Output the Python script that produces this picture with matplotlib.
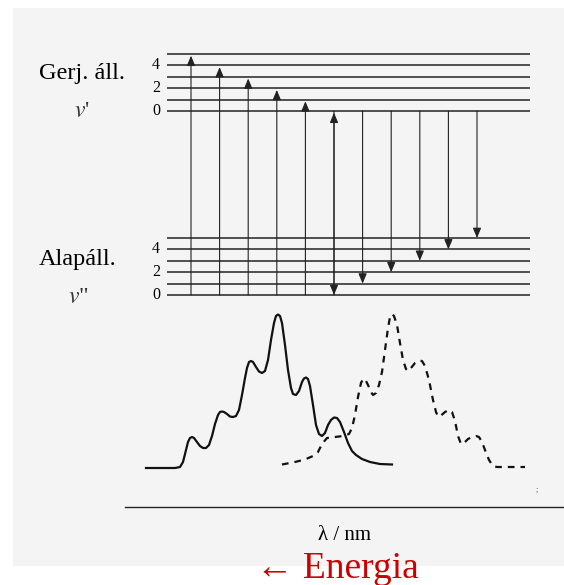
import matplotlib
matplotlib.use("Agg")
import matplotlib.pyplot as plt
from matplotlib.patches import Rectangle

plt.rcParams['font.family'] = ['Liberation Serif', 'DejaVu Serif']

# rezgesi nivok (v = 0..5), energia egysegben
v_quanta = [0, 1, 2, 3, 4, 5]
T_e = 16.14                      # gerjesztett allapot eltolasa
lower_E = [float(v) for v in v_quanta]
upper_E = [T_e + v for v in v_quanta]
label_v = [0, 2, 4]

# atmenetek: abszorpcio v"=0 -> v', emisszio v'=0 -> v"
abs_targets = [5, 4, 3, 2, 1, 0]
emis_targets = [0, 1, 2, 3, 4, 5]

# abszorpcios spektrum (folytonos)
abs_wl = [146, 175, 180, 183, 186, 188, 190, 192, 194, 197, 200, 203, 206, 209,
          212, 215, 218, 220, 222, 224, 227, 230, 233, 236, 239, 242, 245, 247,
          249, 251, 253, 256, 259, 262, 265, 268, 271, 274, 276, 278, 280, 282,
          285, 288, 291, 293, 296, 299, 302, 304, 306, 308, 310, 313, 316, 319,
          322, 325, 328, 331, 334, 337, 340, 344, 348, 352, 356, 362, 370, 380, 392]
abs_int = [0, 0, 1, 6, 18, 26, 30, 31, 30, 26, 22, 20, 20, 23,
           32, 44, 53, 56, 56.5, 56, 54, 51.5, 51, 52, 58, 73, 90, 100,
           106, 107, 106, 101, 96.5, 95, 97, 108, 128, 145, 152, 153.5, 152, 145,
           123, 98, 80, 74, 73, 77, 86, 89.5, 90.5, 89, 82, 63, 43, 34,
           32, 35, 43, 48, 50.5, 50, 46, 36, 25, 17, 13, 9, 6, 4, 3.5]

# emisszios spektrum (szaggatott)
em_wl = [282, 295, 305, 313, 318, 322, 327, 335, 343, 349, 352, 355, 358, 361,
         363, 365, 368, 371, 373, 376, 379, 382, 385, 388, 390, 392, 394, 397,
         400, 403, 406, 408, 411, 415, 419, 422, 425, 429, 433, 436, 438, 441,
         445, 449, 452, 455, 458, 461, 464, 468, 472, 476, 479, 482, 485, 489,
         493, 497, 525]
em_int = [3.5, 6, 8.5, 12, 16, 24, 30, 31, 32, 34, 40, 53, 71, 85,
          89, 89, 83, 76, 73, 75, 83, 96, 118, 140, 151, 154, 152, 143,
          125, 108, 99, 97, 100, 105, 107.5, 107, 102, 88, 68, 56, 51.5, 52.5,
          56, 58, 56, 47, 32, 24, 25, 29, 31, 32, 31, 26, 18, 8,
          2, 1, 1]

W, H = 564, 585


def fx(x):
    return x / W


def fy(y):
    return 1 - y / H


fig = plt.figure(figsize=(5.64, 5.85), dpi=100)
fig.patch.set_facecolor('white')
fig.patches.append(Rectangle((fx(13), fy(566)), 1 - fx(13), fy(8) - fy(566),
                             transform=fig.transFigure, facecolor='#f4f4f4',
                             edgecolor='none', zorder=-10))

# --- energiadiagram ---
step_px = 28.6
ax = fig.add_axes([0, fy(295), 1, fy(54) - fy(295)])
ax.set_xlim(-191 / step_px, (W - 191) / step_px)
ax.set_ylim(0, T_e + 5)
ax.axis('off')
ax.patch.set_alpha(0)

x0 = (167 - 191) / step_px
x1 = (530 - 191) / step_px
for E in upper_E + lower_E:
    ax.plot([x0, x1], [E, E], color='#222222', lw=1.1, solid_capstyle='butt',
            clip_on=False)

for v in label_v:
    ax.text((156 - 191) / step_px, upper_E[v], str(v), ha='center', va='center',
            fontsize=11.5)
    ax.text((156 - 191) / step_px, lower_E[v], str(v), ha='center', va='center',
            fontsize=11.5)

arrow_kw = dict(arrowstyle='-|>,head_length=0.6,head_width=0.25',
                mutation_scale=10, color='#222222', lw=0.8,
                shrinkA=0, shrinkB=0, clip_on=False)
for i, vu in enumerate(abs_targets):
    ax.annotate('', xy=(i, upper_E[vu] - 0.15), xytext=(i, lower_E[0]),
                arrowprops=arrow_kw, annotation_clip=False)
for j, vl in enumerate(emis_targets):
    ax.annotate('', xy=(5 + j, lower_E[vl]), xytext=(5 + j, upper_E[0]),
                arrowprops=arrow_kw, annotation_clip=False)

# feliratok
fig.text(fx(82), fy(79), 'Gerj. áll.', ha='center', va='baseline', fontsize=17.5)
fig.text(fx(82), fy(117), "$v$'", ha='center', va='baseline', fontsize=17,
         color='#333333', math_fontfamily='stix')
fig.text(fx(78), fy(265), 'Alapáll.', ha='center', va='baseline', fontsize=17.5)
fig.text(fx(78), fy(303), '$v$"', ha='center', va='baseline', fontsize=17,
         color='#333333', math_fontfamily='stix')

# --- spektrumok ---
axs = fig.add_axes([fx(125), fy(507), 1 - fx(125), fy(300) - fy(507)])
axs.set_xlim(125, W)
axs.set_ylim(468 - 507, 468 - 300)
axs.patch.set_alpha(0)
axs.plot(abs_wl, abs_int, color='#111111', lw=1.6)
axs.plot(em_wl, em_int, color='#111111', lw=1.6, ls=(0, (3.0, 2.7)))
for s in ['top', 'right', 'left']:
    axs.spines[s].set_visible(False)
axs.spines['bottom'].set_color('#222222')
axs.spines['bottom'].set_linewidth(1.0)
axs.set_xticks([])
axs.set_yticks([])

fig.text(fx(537), fy(492), ';', ha='center', va='baseline', fontsize=6,
         color='#555555')
fig.text(fx(345), fy(540), 'λ / nm', ha='center', va='baseline', fontsize=15)
fig.text(fx(337), fy(578), '← Energia', ha='center', va='baseline',
         fontsize=27, color='#cc0000')

fig.savefig('out.png', dpi=100)
